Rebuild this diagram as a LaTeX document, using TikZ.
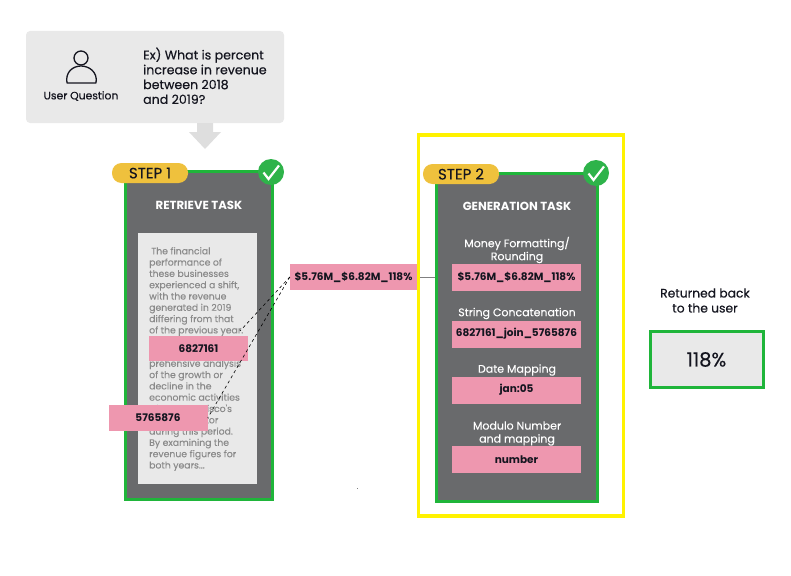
\documentclass[tikz,border=0pt]{standalone}
\usepackage{fontspec}
\setmainfont{Poppins}[UprightFeatures={FakeBold=0.35}]
\newfontfamily\plainface{Poppins}[UprightFeatures={FakeBold=0.15}]
\definecolor{pinkc}{HTML}{EE97AF}
\definecolor{greenc}{HTML}{1FB53A}
\definecolor{checkc}{HTML}{2EB34A}
\definecolor{pillc}{HTML}{EFC13D}
\definecolor{panelc}{HTML}{696A6C}
\definecolor{lightc}{HTML}{E9E9E9}
\definecolor{inkc}{HTML}{14151F}
\definecolor{blurc}{HTML}{8A8A8A}
\definecolor{arrowc}{HTML}{DEDEDE}
\tikzset{
  px/.style={x=1pt,y=-1pt},
  pinkbox/.style={fill=pinkc,draw=none,inner sep=0pt,font=\fontsize{10.5}{13}\selectfont\bfseries,text=inkc},
  panel/.style={fill=panelc,draw=greenc,line width=3pt,inner sep=0pt},
  pill/.style={fill=pillc,rounded corners=9.5pt,inner sep=0pt,minimum width=76pt,minimum height=20pt,font=\fontsize{15}{17}\selectfont,text=inkc},
  checkdisc/.style={circle,fill=checkc,inner sep=0pt,minimum size=26pt},
  tick/.style={draw=white,line width=2.2pt,line join=miter},
  tasktitle/.style={text=white,font=\fontsize{11.7}{13}\selectfont\bfseries,inner sep=0pt},
  oplabel/.style={text=white,font=\plainface\fontsize{11}{13}\selectfont,align=center,inner sep=0pt},
  para/.style={text=blurc,font=\plainface\fontsize{9.3}{11.3}\selectfont,align=left,inner sep=0pt,anchor=north west},
  darktext/.style={text=inkc,inner sep=0pt,align=center},
}
\begin{document}
\begin{tikzpicture}[px]
\useasboundingbox (0,0) rectangle (791,575);
% question box
\node[fill=lightc,rounded corners=4pt,minimum width=258pt,minimum height=92pt,inner sep=0pt] (question) at (155,77) {};
\fill[arrowc] (197,123) -- (213,123) -- (213,132) -- (221,132) -- (205,149) -- (189,132) -- (197,132) -- cycle;
\draw[inkc,line width=1.3pt] (81,58) circle (7);
\draw[inkc,line width=1.3pt,line join=round] (67,83) .. controls (65,72) and (73,66) .. (81,66) .. controls (89,66) and (98,72) .. (96,83) -- cycle;
\node[darktext,font=\fontsize{10.8}{12}\selectfont] (userq) at (81,96) {User Question};
\node[text=inkc,inner sep=0pt,align=left,anchor=north west,font=\fontsize{12.6}{14.8}\selectfont] (extext) at (143,47.5) {Ex) What is percent\\increase in revenue\\between 2018\\and 2019?};
% step 1
\node[panel,minimum width=147pt,minimum height=328pt] (panelone) at (198.5,335) {};
\node[pill] (stepone) at (150,173) {STEP 1};
\node[checkdisc] (checkone) at (271,172) {};
\draw[tick] (263.5,172.5) -- (268.5,179) -- (279,165.5);
\node[tasktitle] (retrieve) at (199,205) {RETRIEVE TASK};
\node[fill=lightc,minimum width=119pt,minimum height=251pt,inner sep=0pt] (doc) at (197.5,358.5) {};
\node[para] (paraone) at (149,247) {\hspace{2pt}The financial\\performance of\\these businesses\\experienced a shift,\\with the revenue\\generated in 2019\\differing from that\\of the previous year.};
\node[para] (paratwo) at (149,359.5) {prehensive analysis\\of the growth or\\decline in the\\economic activities\\of San Francisco's\\\hspace{40pt}sector\\during this period.\\By examining the\\revenue figures for\\both years...};
\coordinate (joinend) at (240,331);
\node[pinkbox,minimum width=99pt,minimum height=25pt] (valone) at (198.5,348.5) {6827161};
\node[pinkbox,minimum width=99pt,minimum height=26pt] (valtwo) at (158,418) {5765876};
\node[pinkbox,minimum width=127pt,minimum height=26pt] (combined) at (353.5,277) {\$5.76M\_\$6.82M\_118\%};
\draw[black,dash pattern=on 3pt off 3pt,line width=0.6pt] (combined.west) -- (joinend);
\draw[black,dash pattern=on 3pt off 3pt,line width=0.6pt] (combined.west) -- (valtwo.east);
% step 2
\node[panel,minimum width=161pt,minimum height=328pt] (paneltwo) at (516.5,337) {};
\draw[gray,line width=1pt] (combined.east) -- (paneltwo.west |- combined.east);
\node[draw=yellow,line width=3.6pt,minimum width=205pt,minimum height=381pt,inner sep=0pt] (focus) at (521,325.5) {};
\node[pill] (steptwo) at (461,174) {STEP 2};
\node[checkdisc] (checktwo) at (596,173) {};
\draw[tick] (588.5,173.5) -- (593.5,180) -- (604,166.5);
\node[tasktitle] (generation) at (517,206) {GENERATION TASK};
\node[oplabel] (opa) at (517,250) {Money Formatting/\\Rounding};
\node[pinkbox,minimum width=129pt,minimum height=27pt] (boxa) at (516.5,277.5) {\$5.76M\_\$6.82M\_118\%};
\node[oplabel] (opb) at (517,313.5) {String Concatenation};
\node[pinkbox,minimum width=129pt,minimum height=27pt] (boxb) at (516.5,334) {6827161\_join\_5765876};
\node[oplabel] (opc) at (517,370) {Date Mapping};
\node[pinkbox,minimum width=129pt,minimum height=27pt] (boxc) at (516.5,390) {jan:05};
\node[oplabel] (opd) at (517,433.5) {Modulo Number\\and mapping};
\node[pinkbox,minimum width=129pt,minimum height=27pt] (boxd) at (516.5,459.5) {number};
% result
\node[darktext,font=\fontsize{12.3}{15}\selectfont] (returned) at (705,300.5) {Returned back\\to the user};
\node[fill=lightc,draw=greenc,line width=3pt,minimum width=113pt,minimum height=56pt,inner sep=0pt,text=inkc,font=\fontsize{19.5}{22}\selectfont] (result) at (706.5,359.5) {118\%};
\fill[gray] (357,488) rectangle (358,489);
\end{tikzpicture}
\end{document}
